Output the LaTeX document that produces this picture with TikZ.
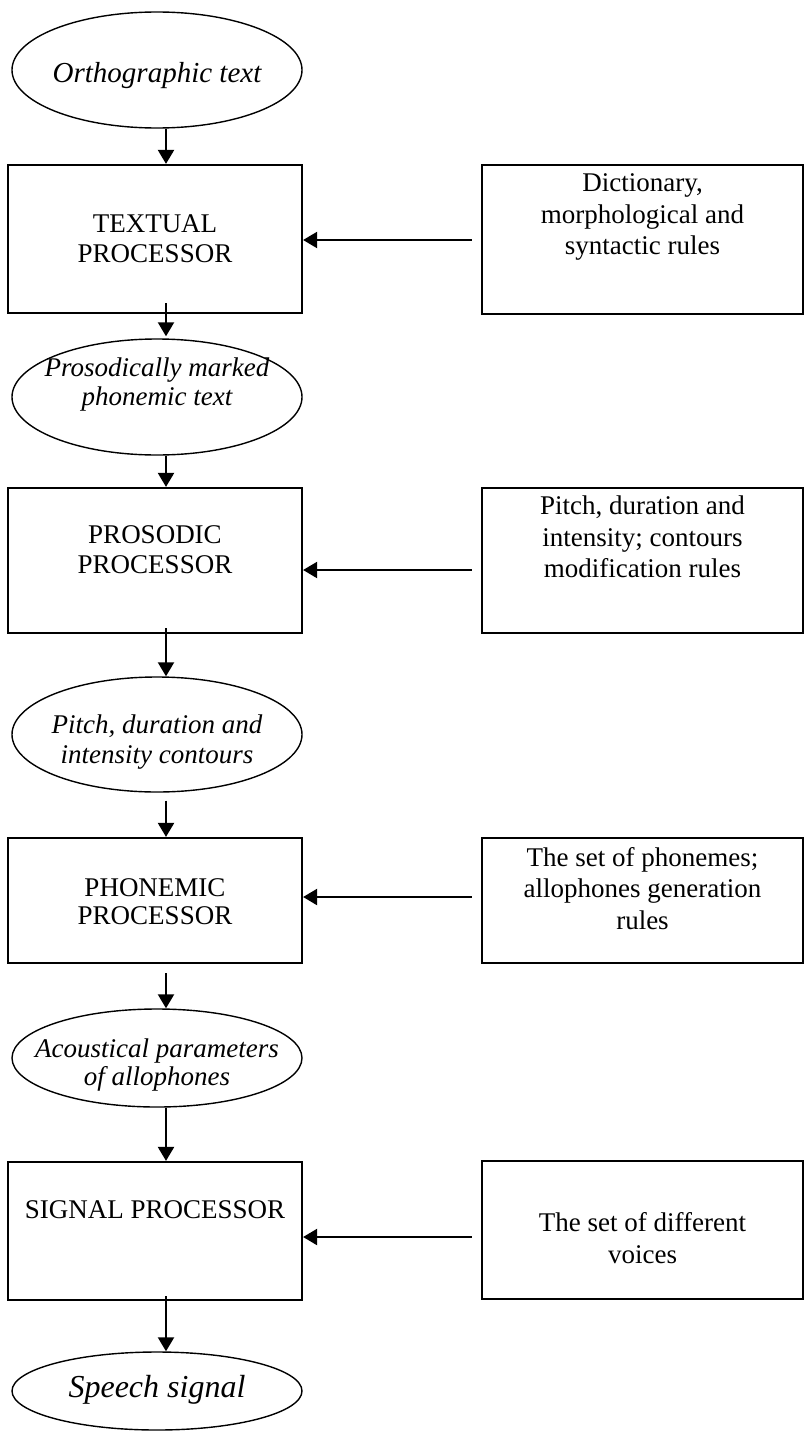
\documentclass[tikz,border=0pt]{standalone}
\usepackage{fontspec}
\setmainfont{Liberation Serif}
\usetikzlibrary{arrows.meta,shapes.geometric,calc}
\begin{document}
\begin{tikzpicture}[x=1pt,y=-1pt,
  procbox/.style={draw, line width=2.2pt, rectangle, minimum width=294pt, inner sep=0pt},
  rulebox/.style={draw, line width=2.2pt, rectangle, minimum width=321pt, inner sep=0pt},
  dataoval/.style={draw, line width=1.4pt, ellipse, minimum width=290pt, inner sep=0pt},
  txt/.style={align=center, inner sep=0pt, font=\fontsize{27}{31.5}\selectfont},
  itxt/.style={align=center, inner sep=0pt, font=\fontsize{27}{29.5}\selectfont\itshape},
  arr/.style={line width=2.2pt, -{Triangle[length=14pt,width=16pt]}},
]
\useasboundingbox (0,0) rectangle (806,1432);

% stage 1
\node[dataoval, minimum height=116pt] (e1) at (157,70) {};
\node[itxt, font=\fontsize{29}{33}\selectfont\itshape] (e1t) at (157,76) {Orthographic text};
\node[procbox, minimum height=148pt] (b1) at (155,239) {};
\node[txt, font=\fontsize{27}{30}\selectfont] (b1t) at (155,239) {TEXTUAL\\PROCESSOR};
\node[rulebox, minimum height=149pt] (r1) at (642.5,239.5) {};
\node[txt] (r1t) at (642.5,217) {Dictionary,\\morphological and\\syntactic rules};

% stage 2
\node[dataoval, minimum height=116pt] (e2) at (157,397) {};
\node[itxt] (e2t) at (157,384.5) {Prosodically marked\\phonemic text};
\node[procbox, minimum height=145pt] (b2) at (155,560.5) {};
\node[txt, font=\fontsize{27}{30}\selectfont] (b2t) at (155,550) {PROSODIC\\PROCESSOR};
\node[rulebox, minimum height=145pt] (r2) at (642.5,560.5) {};
\node[txt] (r2t) at (642.5,537) {Pitch, duration and\\intensity; contours\\modification rules};

% stage 3
\node[dataoval, minimum height=115pt] (e3) at (157,734.5) {};
\node[itxt] (e3t) at (157,742) {Pitch, duration and\\intensity contours};
\node[procbox, minimum height=125pt] (b3) at (155,900.5) {};
\node[txt, font=\fontsize{27}{28}\selectfont] (b3t) at (155,902) {PHONEMIC\\PROCESSOR};
\node[rulebox, minimum height=125pt] (r3) at (642.5,900.5) {};
\node[txt] (r3t) at (642.5,888.5) {The set of phonemes;\\allophones generation\\rules};

% stage 4
\node[dataoval, minimum height=98pt] (e4) at (157,1058) {};
\node[itxt, font=\fontsize{27}{28}\selectfont\itshape] (e4t) at (157,1065) {Acoustical parameters\\of allophones};
\node[procbox, minimum height=138pt] (b4) at (155,1231) {};
\node[txt] (b4t) at (155,1209.5) {SIGNAL PROCESSOR};
\node[rulebox, minimum height=138pt] (r4) at (642.5,1230) {};
\node[txt] (r4t) at (642.5,1238) {The set of different\\voices};

% output
\node[dataoval, minimum height=78pt] (e5) at (157,1391) {};
\node[itxt, font=\fontsize{32}{36}\selectfont\itshape] (e5t) at (157,1390) {Speech signal};

% main flow
\coordinate (spine) at (166,0);
\draw[arr] (e1.south -| spine) -- (b1.north -| spine);
\draw[arr] ($(b1.south -| spine)+(0,-11)$) -- ($(e2.north -| spine)+(0,-2)$);
\draw[arr] (e2.south -| spine) -- (b2.north -| spine);
\draw[arr] ($(b2.south -| spine)+(0,-6)$) -- (e3.north -| spine);
\draw[arr] ($(e3.south -| spine)+(0,8)$) -- (b3.north -| spine);
\draw[arr] ($(b3.south -| spine)+(0,9)$) -- (e4.north -| spine);
\draw[arr] (e4.south -| spine) -- (b4.north -| spine);
\draw[arr] ($(b4.south -| spine)+(0,-5)$) -- (e5.north -| spine);

% rule inputs
\coordinate (h1) at (0,240);
\coordinate (h2) at (0,570);
\coordinate (h3) at (0,897);
\coordinate (h4) at (0,1237);
\draw[arr] ($(r1.west |- h1)+(-9,0)$) -- (b1.east |- h1);
\draw[arr] ($(r2.west |- h2)+(-9,0)$) -- (b2.east |- h2);
\draw[arr] ($(r3.west |- h3)+(-9,0)$) -- (b3.east |- h3);
\draw[arr] ($(r4.west |- h4)+(-9,0)$) -- (b4.east |- h4);
\end{tikzpicture}
\end{document}
